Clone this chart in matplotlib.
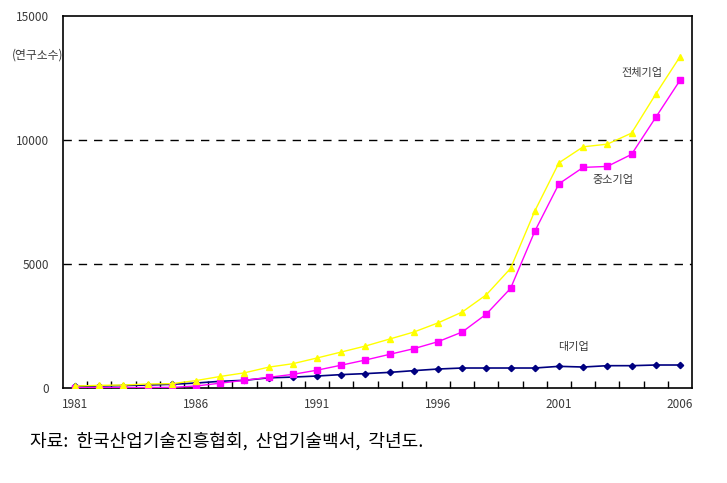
import matplotlib
matplotlib.use("Agg")
import matplotlib.pyplot as plt
from matplotlib.ticker import FixedLocator

plt.rcParams['font.family'] = ['Noto Sans CJK KR', 'DejaVu Sans']

years = list(range(1981, 2007))
large = [70, 80, 100, 120, 150, 200, 270, 310, 410, 440, 483, 540, 580, 630, 700,
         765, 806, 806, 806, 806, 873, 846, 900, 900, 927, 927]
sme = [10, 15, 15, 20, 25, 80, 195, 309, 430, 550, 718, 920, 1128, 1357, 1585,
       1867, 2257, 2982, 4017, 6315, 8234, 8895, 8935, 9420, 10910, 12400]
total = [80, 107, 120, 161, 175, 300, 465, 612, 840, 980, 1210, 1450, 1692, 1974, 2256,
         2625, 3063, 3760, 4823, 7133, 9080, 9725, 9833, 10277, 11848, 13352]
xtick_years = [1981, 1986, 1991, 1996, 2001, 2006]
yticks = [0, 5000, 10000, 15000]
ref_lines = [5000, 10000]

fig = plt.figure(figsize=(7.27, 4.83), dpi=100)
ax = fig.add_axes([63/727, 1-388/483, (692-63)/727, (388-16)/483])

for v in ref_lines:
    ax.axhline(v, color='black', lw=1.0, dashes=(6, 5), zorder=1)

ax.plot(years, large, color='#000080', lw=1.2, marker='D', ms=3.2, zorder=3)
ax.plot(years, sme, color='#FF00FF', lw=1.0, marker='s', ms=4.6, zorder=4)
ax.plot(years, total, color='#FFFF00', lw=1.0, marker='^', ms=4.8, zorder=5)

ax.set_xlim(1980.5, 2006.5)
ax.set_ylim(0, 15000)
ax.set_yticks(yticks)
ax.set_yticklabels([str(v) for v in yticks])
ax.tick_params(axis='y', length=0, pad=10, labelsize=8.5, labelcolor='#3a3a3a')
ax.set_xticks(xtick_years)
ax.set_xticklabels([str(y) for y in xtick_years])
ax.xaxis.set_minor_locator(FixedLocator([y + 0.5 for y in years[:-1]]))
ax.tick_params(axis='x', which='major', length=0, pad=7, labelsize=8.5, labelcolor='#3a3a3a')
ax.tick_params(axis='x', which='minor', direction='in', length=5, width=1)

for s in ax.spines.values():
    s.set_linewidth(1.2)

lab_color = '#3a3a3a'
ax.text(0.0, 13420, '(연구소수)', transform=ax.get_yaxis_transform(),
        ha='right', va='center', fontsize=8.5, color=lab_color)
ax.text(2004.45, 12720, '전체기업', ha='center', va='center', fontsize=8, color=lab_color)
ax.text(2003.25, 8400, '중소기업', ha='center', va='center', fontsize=8, color=lab_color)
ax.text(2001.6, 1650, '대기업', ha='center', va='center', fontsize=8, color=lab_color)

fig.text(30/727, 1-441/483, '자료:  한국산업기술진흥협회,  산업기술백서,  각년도.',
         ha='left', va='center', fontsize=13, color='black')

fig.savefig('out.png', dpi=100)
